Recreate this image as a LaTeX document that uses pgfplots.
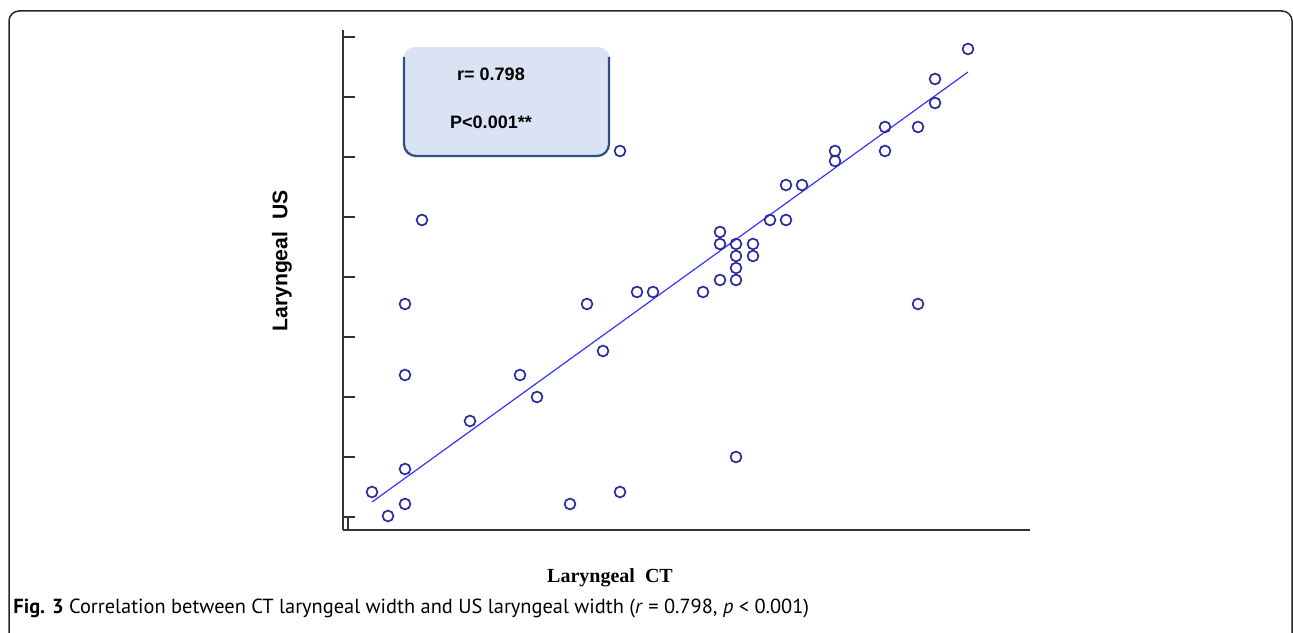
\documentclass[border=0pt]{standalone}
\usepackage{pgfplots}
\pgfplotsset{compat=1.18}
\usepackage{fontspec}
\setmainfont{Liberation Sans}
\newfontfamily\capfont{PT Sans}
\newfontfamily\serifb{Liberation Serif}
\definecolor{markc}{HTML}{2B2B9E}
\definecolor{linec}{HTML}{3535FF}
\definecolor{boxfill}{HTML}{DAE3F3}
\definecolor{boxdraw}{HTML}{2F5080}
\definecolor{axc}{HTML}{333333}
\begin{document}
\begin{tikzpicture}[x=0.5pt,y=0.5pt]
\path[use as bounding box] (0,0) rectangle (1293,632);
\draw[line width=0.75pt,color=black!85,rounded corners=5pt] (9,-10) -- (9,621) -- (1292,621) -- (1292,-10);
\begin{axis}[
  at={(343,102)}, anchor=south west,
  scale only axis, width=343.5pt, height=250pt,
  xmin=343, xmax=1030, ymin=102, ymax=602,
  axis lines=left, axis line style={-, line width=1pt, color=axc},
  xtick={348}, ytick={115,175,235,295,355,415,475,535,595},
  xticklabels={}, yticklabels={},
  tick align=inside, major tick length=6pt,
  tick style={line width=1pt, color=axc},
  clip=false,
]
\addplot[linec, line width=0.6pt] coordinates {(372,130) (968,560)};
\addplot[only marks, mark=o, mark size=2.7pt, mark options={line width=0.85pt, color=markc}] coordinates {
(372,140) (388,116) (405,128) (405,163) (405,257) (405,328) (422,412)
(470,211) (520,257) (537,235) (570,128) (587,328) (603,281) (620,481)
(620,140) (637,340) (653,340) (703,340) (720,400) (720,388) (720,352)
(736,388) (736,376) (736,364) (736,352) (753,388) (753,376) (736,175)
(770,412) (786,412) (786,447) (802,447) (835,481) (835,471) (885,505)
(885,481) (918,505) (918,328) (935,553) (935,529) (968,583)
};
\end{axis}
\fill[boxfill, rounded corners=6pt] (403,475) rectangle (610,585);
\draw[boxdraw, line width=1.1pt, rounded corners=6pt] (404,575) -- (404,476) -- (609,476) -- (609,575);
\node[font=\fontsize{9}{10}\selectfont\bfseries] at (491,558) {r= 0.798};
\node[font=\fontsize{9}{10}\selectfont\bfseries] at (491,510) {P<0.001**};
\node[rotate=90, font=\fontsize{10.6}{12}\selectfont\bfseries] at (282,371) {Laryngeal\ \ US};
\node[font=\fontsize{10}{12}\serifb\bfseries] at (610,54) {Laryngeal\ \ CT};
\node[anchor=west, inner sep=0pt, font=\fontsize{10.2}{12}\capfont] at (13,24) {\textbf{Fig. 3} Correlation between CT laryngeal width and US laryngeal width (\textit{r} = 0.798, \textit{p} < 0.001)};
\end{tikzpicture}
\end{document}
